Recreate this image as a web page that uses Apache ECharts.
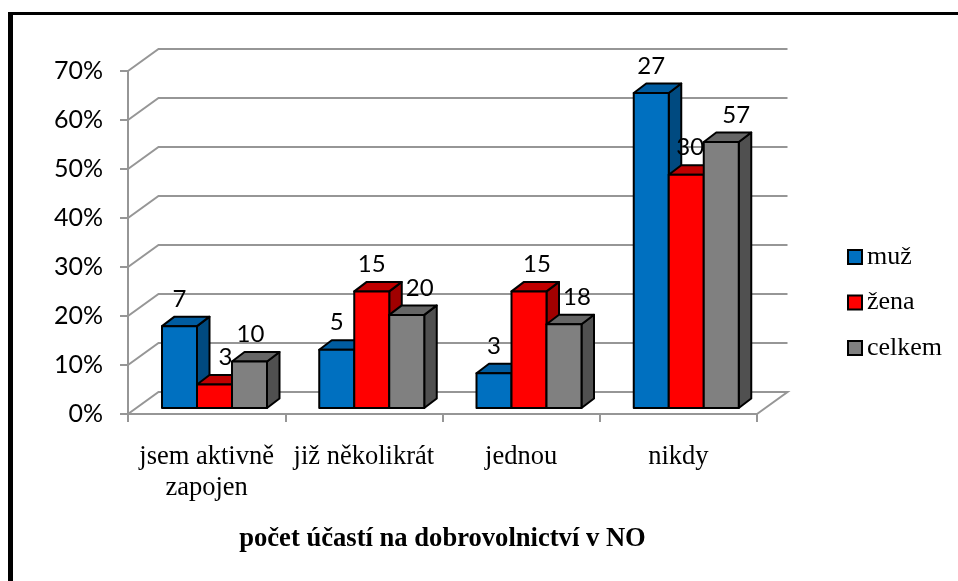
<!DOCTYPE html>
<html>
<head>
<meta charset="utf-8">
<style>html,body{margin:0;padding:0;background:#fff}#c{width:958px;height:581px}</style>
<script src="https://cdn.jsdelivr.net/npm/echarts@6/dist/echarts.min.js"></script>
</head>
<body>
<div id="c"></div>
<script>
const categories = ['jsem aktivně\nzapojen', 'již několikrát', 'jednou', 'nikdy'];
const seriesNames = ['muž', 'žena', 'celkem'];
const muzShare = [0.167, 0.119, 0.071, 0.643];
const zenaShare = [0.048, 0.238, 0.238, 0.476];
const celkemShare = [0.095, 0.19, 0.171, 0.543];
const muzCount = [7, 5, 3, 27];
const zenaCount = [3, 15, 15, 30];
const celkemCount = [10, 20, 18, 57];
const yTicks = [0, 0.1, 0.2, 0.3, 0.4, 0.5, 0.6, 0.7];
const axisTitle = 'počet účastí na dobrovolnictví v NO';

const serif = '"Liberation Serif", serif';
const sans = 'Lato, "Open Sans", sans-serif';
const gridCol = '#969696';
const faces = [
  { front: '#0070C0', top: '#005CA0', side: '#004A80' },
  { front: '#FF0000', top: '#C00000', side: '#A00000' },
  { front: '#808080', top: '#666666', side: '#505050' }
];
const labelNudge = [[0, 0, 0, 0], [11, 0, 8, 4], [1, 13, 13, 15]];
const DX = 12.5, DY = -9.5, LIFT = 6, GROUP_START = 34, BAR_W = 35;
const WALL_DX = 30.5, WALL_DY = -22;

function barItem(si) {
  return function (params, api) {
    const c = api.value(0), v = api.value(1), n = api.value(2);
    const band = api.size([1, 0])[0];
    const left = api.coord([c, 0])[0] - band / 2 + GROUP_START + si * BAR_W;
    const right = left + BAR_W;
    const base = api.coord([c, 0])[1] - LIFT;
    const top = api.coord([c, v])[1] - LIFT;
    const f = faces[si];
    const st = (col) => ({ fill: col, stroke: '#000', lineWidth: 2, lineJoin: 'round' });
    return {
      type: 'group',
      children: [
        { type: 'polygon', shape: { points: [[right, base], [right + DX, base + DY], [right + DX, top + DY], [right, top]] }, style: st(f.side) },
        { type: 'polygon', shape: { points: [[left, top], [left + DX, top + DY], [right + DX, top + DY], [right, top]] }, style: st(f.top) },
        { type: 'rect', shape: { x: left, y: top, width: BAR_W, height: base - top }, style: st(f.front) },
        { type: 'text', z2: 100, style: {
            text: String(n), x: (left + right) / 2 + labelNudge[si][c], y: top - 27,
            align: 'center', verticalAlign: 'middle', fill: '#000', font: '24px ' + sans } }
      ]
    };
  };
}
function wallItem(params, api) {
  const v = api.value(1);
  const band = api.size([1, 0])[0];
  const x0 = api.coord([0, v])[0] - band / 2;
  const x1 = x0 + band * categories.length;
  const y = api.coord([0, v])[1];
  const pts = [[x0, y], [x0 + WALL_DX, y + WALL_DY], [x1 + WALL_DX, y + WALL_DY]];
  if (v === 0) pts.push([x1, y]);
  return { type: 'polyline', shape: { points: pts }, style: { fill: 'none', stroke: gridCol, lineWidth: 2 } };
}
function barSeries(si, shares, counts) {
  return {
    type: 'custom', name: seriesNames[si],
    itemStyle: { color: faces[si].front },
    encode: { x: 0, y: 1 },
    renderItem: barItem(si),
    data: shares.map((s, i) => [i, s, counts[i]])
  };
}
const chart = echarts.init(document.getElementById('c'));
chart.setOption({
  animation: false,
  backgroundColor: '#fff',
  graphic: [
    { type: 'rect', shape: { x: 8, y: 12, width: 950, height: 3 }, style: { fill: '#000' } },
    { type: 'rect', shape: { x: 8, y: 12, width: 5, height: 569 }, style: { fill: '#000' } }
  ],
  grid: { left: 128, top: 71, width: 629, height: 343 },
  xAxis: {
    type: 'category', data: categories,
    axisLine: { lineStyle: { color: gridCol, width: 2 } },
    axisTick: { show: true, length: 8, lineStyle: { color: gridCol, width: 2 } },
    axisLabel: { interval: 0, margin: 28, fontFamily: serif, fontSize: 26.5, lineHeight: 31, color: '#000' },
    name: axisTitle, nameLocation: 'middle', nameGap: 112,
    nameTextStyle: { fontFamily: serif, fontWeight: 'bold', fontSize: 26.6, color: '#000' }
  },
  yAxis: {
    type: 'value', min: 0, max: 0.7, interval: 0.1,
    axisLine: { show: true, lineStyle: { color: gridCol, width: 2 } },
    axisTick: { show: true, length: 8, lineStyle: { color: gridCol, width: 2 } },
    splitLine: { show: false },
    axisLabel: { margin: 25, fontFamily: sans, fontSize: 25, color: '#000',
      formatter: (v) => Math.round(v * 100) + '%' }
  },
  legend: {
    orient: 'vertical', left: 842, top: 239, itemWidth: 14, itemHeight: 14, itemGap: 19.5,
    textStyle: { fontFamily: serif, fontSize: 26, color: '#000', lineHeight: 23 },
    selectedMode: false,
    data: seriesNames.map((n, i) => ({ name: n, icon: 'rect',
      itemStyle: { color: faces[i].front, borderColor: '#000', borderWidth: 2 } }))
  },
  series: [
    { type: 'custom', encode: { x: 0, y: 1 }, silent: true,
      renderItem: wallItem, data: yTicks.map((v) => [0, v]) },
    barSeries(0, muzShare, muzCount),
    barSeries(1, zenaShare, zenaCount),
    barSeries(2, celkemShare, celkemCount)
  ]
});
</script>
</body>
</html>
